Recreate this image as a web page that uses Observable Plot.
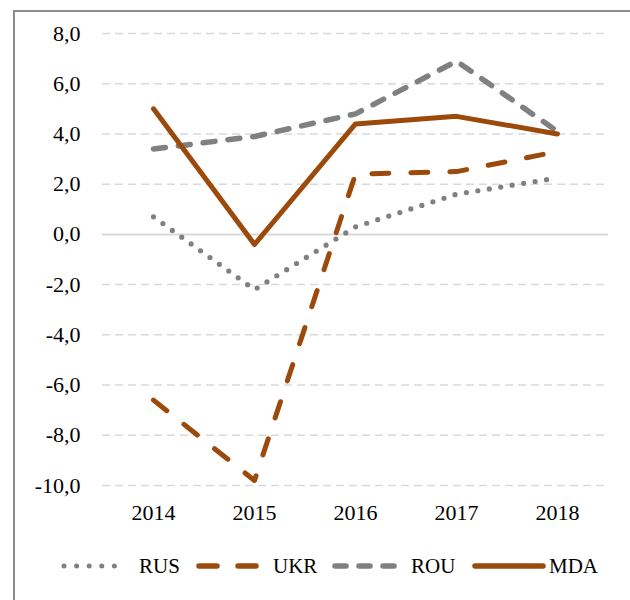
<!DOCTYPE html>
<html>
<head>
<meta charset="utf-8">
<script src="https://cdn.jsdelivr.net/npm/d3@7"></script>
<script src="https://cdn.jsdelivr.net/npm/@observablehq/plot@0.6"></script>
<style>
  html, body { margin: 0; padding: 0; background: #fff; }
  #wrap { position: relative; width: 630px; height: 600px; overflow: hidden; font-family: "Liberation Serif", "DejaVu Serif", serif; }
  #frame { position: absolute; left: 13px; top: 10px; width: 700px; height: 700px; border-left: 2px solid #8c8c8c; border-top: 2px solid #8c8c8c; box-sizing: border-box; }
  #chart { position: absolute; left: 0; top: 0; }
  #legend { position: absolute; left: 0; top: 546px; }
</style>
</head>
<body>
<div id="wrap">
  <div id="frame"></div>
  <div id="chart"></div>
  <svg id="legend" width="630" height="40"></svg>
</div>
<script>
const years = ["2014", "2015", "2016", "2017", "2018"];
const seriesNames = ["RUS", "UKR", "ROU", "MDA"];
const RUS = [0.7, -2.2, 0.3, 1.6, 2.25];
const UKR = [-6.6, -9.8, 2.4, 2.5, 3.3];
const ROU = [3.4, 3.9, 4.8, 6.9, 4.1];
const MDA = [5.0, -0.4, 4.4, 4.7, 4.0];
const yTicks = [-10, -8, -6, -4, -2, 0, 2, 4, 6, 8];

const valuesBySeries = { RUS, UKR, ROU, MDA };
const styles = {
  RUS: { stroke: "#808080", strokeWidth: 5.2, dash: "0,11.6" },
  UKR: { stroke: "#9C4A0B", strokeWidth: 5, dash: "17,22" },
  ROU: { stroke: "#808080", strokeWidth: 5.5, dash: "12,13" },
  MDA: { stroke: "#9C4A0B", strokeWidth: 5, dash: null }
};

const rows = seriesNames.flatMap(s => years.map((y, i) => ({ series: s, year: y, value: valuesBySeries[s][i] })));
const fmt = d => d.toFixed(1).replace(".", ",");

const lineMarks = seriesNames.map(s => Plot.line(rows.filter(r => r.series === s), {
  x: "year", y: "value",
  stroke: styles[s].stroke,
  strokeWidth: styles[s].strokeWidth,
  strokeDasharray: styles[s].dash,
  strokeLinecap: "round",
  strokeLinejoin: "round"
}));

const plot = Plot.plot({
  width: 630,
  height: 530,
  marginLeft: 102,
  marginRight: 22,
  marginTop: 33,
  marginBottom: 45,
  style: { fontFamily: "'Liberation Serif', 'DejaVu Serif', serif", fontSize: "22px", color: "#000", background: "transparent" },
  x: { type: "point", domain: years, padding: 0.5 },
  y: { domain: [-10, 8] },
  marks: [
    Plot.ruleY(yTicks.filter(d => d !== 0), { stroke: "#d9d9d9", strokeWidth: 1.5, strokeDasharray: "8,5" }),
    Plot.ruleY([0], { stroke: "#d9d9d9", strokeWidth: 2 }),
    Plot.axisY({ ticks: yTicks, tickFormat: fmt, tickSize: 0, tickPadding: 22, fontSize: 22, label: null }),
    Plot.axisX({ tickSize: 0, tickPadding: 19, fontSize: 22, label: null }),
    ...lineMarks
  ]
});
document.getElementById("chart").appendChild(plot);

// Legend
const legendItems = [
  { name: "RUS", x1: 64, x2: 127, tx: 139 },
  { name: "UKR", x1: 199, x2: 260, tx: 273 },
  { name: "ROU", x1: 335, x2: 396, tx: 411 },
  { name: "MDA", x1: 475, x2: 543, tx: 549 }
];
const lg = d3.select("#legend");
const ly = 20;
legendItems.forEach(it => {
  const st = styles[it.name];
  let dash = st.dash;
  if (it.name === "UKR") dash = "18,21";
  if (it.name === "ROU") dash = "11,13";
  if (it.name === "RUS") dash = "0,12.6";
  lg.append("line")
    .attr("x1", it.x1).attr("x2", it.x2).attr("y1", ly).attr("y2", ly)
    .attr("stroke", st.stroke).attr("stroke-width", it.name === "RUS" ? 5 : 5.5)
    .attr("stroke-linecap", "round")
    .attr("stroke-dasharray", dash);
  lg.append("text")
    .attr("x", it.tx).attr("y", ly).attr("dy", "0.35em")
    .attr("font-family", "'Liberation Serif', 'DejaVu Serif', serif")
    .attr("font-size", 21).attr("fill", "#000")
    .text(it.name);
});
</script>
</body>
</html>
